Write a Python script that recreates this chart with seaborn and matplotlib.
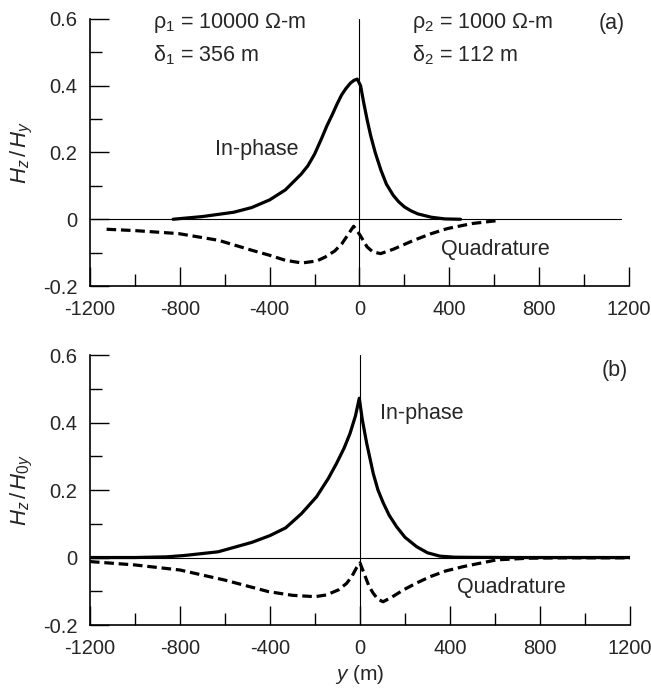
import matplotlib
matplotlib.use("Agg")
import matplotlib.pyplot as plt
import seaborn as sns
from matplotlib.ticker import FixedLocator, MultipleLocator

# panel (a): rho1 = 10000, rho2 = 1000
a_inphase_y = [-830, -700, -560, -480, -400, -330, -260, -230, -200, -170, -145, -120, -100, -80, -60, -40, -25, -10, 5, 20, 35, 50, 70, 95, 120, 150, 175, 200, 230, 260, 320, 380, 450]
a_inphase_v = [0, 0.008, 0.021, 0.035, 0.058, 0.088, 0.135, 0.16, 0.195, 0.24, 0.28, 0.315, 0.345, 0.372, 0.392, 0.408, 0.416, 0.42, 0.40, 0.345, 0.295, 0.25, 0.2, 0.148, 0.105, 0.072, 0.052, 0.037, 0.025, 0.016, 0.006, 0.001, 0]
a_quad_y = [-1126, -1000, -806, -628, -479, -400, -330, -256, -190, -152, -110, -78, -50, -26, 0, 34, 60, 94, 150, 242, 320, 391, 500, 614]
a_quad_v = [-0.030, -0.034, -0.043, -0.063, -0.093, -0.108, -0.123, -0.131, -0.125, -0.113, -0.095, -0.073, -0.045, -0.021, -0.045, -0.083, -0.098, -0.103, -0.09, -0.063, -0.043, -0.028, -0.013, -0.004]

# panel (b)
b_inphase_y = [-1200, -1000, -860, -780, -630, -480, -400, -330, -260, -193, -140, -104, -70, -44, -20, -3, 10, 30, 59, 80, 104, 130, 163, 200, 252, 300, 356, 420, 500, 700, 900, 1200]
b_inphase_v = [0, 0, 0.002, 0.006, 0.017, 0.045, 0.065, 0.088, 0.13, 0.18, 0.235, 0.279, 0.325, 0.368, 0.42, 0.472, 0.41, 0.338, 0.249, 0.2, 0.161, 0.125, 0.091, 0.06, 0.032, 0.014, 0.004, 0.001, 0.0005, 0, 0, 0]
b_quad_y = [-1200, -1000, -800, -600, -407, -300, -200, -150, -96, -60, -37, -15, 0, 20, 40, 59, 80, 103, 140, 193, 250, 311, 380, 459, 607, 750, 900, 1200]
b_quad_v = [-0.012, -0.022, -0.037, -0.067, -0.101, -0.112, -0.116, -0.111, -0.096, -0.077, -0.057, -0.03, -0.016, -0.05, -0.085, -0.106, -0.124, -0.131, -0.118, -0.096, -0.076, -0.057, -0.04, -0.027, -0.007, -0.002, -0.001, -0.001]

x_ticks = [-1200, -800, -400, 0, 400, 800, 1200]
x_ticklabels = ['-1200', '-800', '-400', '0', '400', '800', '1200']
y_ticks = [-0.2, 0, 0.2, 0.4, 0.6]
y_ticklabels = ['-0.2', '0', '0.2', '0.4', '0.6']

sns.set_style("ticks")
plt.rcParams['font.family'] = ['Liberation Sans', 'DejaVu Sans']
plt.rcParams['mathtext.fontset'] = 'custom'
plt.rcParams['mathtext.rm'] = 'Liberation Sans'
plt.rcParams['mathtext.it'] = 'Liberation Sans:italic'
plt.rcParams['axes.unicode_minus'] = False

fig = plt.figure(figsize=(6.51, 6.93), dpi=100)
ax_a = fig.add_axes([0.1382, 0.5873, 0.8280, 0.3853])
ax_b = fig.add_axes([0.1382, 0.0981, 0.8295, 0.3896])


def draw_panel(ax, ip_y, ip_v, q_y, q_v, zero_end):
    ax.axhline(0, xmin=0, xmax=zero_end, color='black', lw=0.8)
    ax.axvline(0, color='black', lw=0.8)
    sns.lineplot(x=ip_y, y=ip_v, ax=ax, color='black', lw=2.3,
                 estimator=None, sort=False)
    sns.lineplot(x=q_y, y=q_v, ax=ax, color='black', lw=2.3,
                 estimator=None, sort=False)
    ax.lines[-1].set_dashes([3.0, 1.5])

    ax.set_xlim(-1200, 1200)
    ax.set_ylim(-0.2, 0.6)
    ax.xaxis.set_major_locator(FixedLocator(x_ticks))
    ax.set_xticklabels(x_ticklabels)
    ax.xaxis.set_minor_locator(MultipleLocator(200))
    ax.yaxis.set_major_locator(FixedLocator(y_ticks))
    ax.set_yticklabels(y_ticklabels)
    ax.yaxis.set_minor_locator(MultipleLocator(0.1))
    ax.tick_params(which='major', direction='in', length=13.5, width=1,
                   labelsize=14.5, color='black')
    ax.tick_params(axis='x', which='major', pad=10)
    ax.tick_params(axis='y', which='major', pad=9)
    ax.tick_params(which='minor', direction='in', length=8.5, width=1, color='black')
    for side in ['top', 'right']:
        ax.spines[side].set_visible(False)
    for side in ['left', 'bottom']:
        ax.spines[side].set_linewidth(1.2)
        ax.spines[side].set_color('black')


draw_panel(ax_a, a_inphase_y, a_inphase_v, a_quad_y, a_quad_v, 0.985)
draw_panel(ax_b, b_inphase_y, b_inphase_v, b_quad_y, b_quad_v, 1.0)

fs = 15.5
ax_a.text(-920, 0.587, 'ρ$_1$ = 10000 Ω-m', fontsize=fs, va='center')
ax_a.text(-920, 0.491, 'δ$_1$ = 356 m', fontsize=fs, va='center')
ax_a.text(236, 0.587, 'ρ$_2$ = 1000 Ω-m', fontsize=fs, va='center')
ax_a.text(236, 0.491, 'δ$_2$ = 112 m', fontsize=fs, va='center')
ax_a.text(1066, 0.587, '(a)', fontsize=fs, va='center')
ax_a.text(-457, 0.21, 'In-phase', fontsize=fs, va='center', ha='center')
ax_a.text(361, -0.09, 'Quadrature', fontsize=fs, va='center')

ax_b.text(1075, 0.555, '(b)', fontsize=fs, va='center')
ax_b.text(89, 0.428, 'In-phase', fontsize=fs, va='center')
ax_b.text(431, -0.09, 'Quadrature', fontsize=fs, va='center')

ax_a.set_ylabel(r'$H_z\,/\,H_y$', fontsize=16, labelpad=6)
ax_b.set_ylabel(r'$H_z\,/\,H_{\mathrm{0}y}$', fontsize=16, labelpad=6)
ax_b.set_xlabel(r'$y$ (m)', fontsize=15, labelpad=4)

fig.savefig('out.png', dpi=100)
